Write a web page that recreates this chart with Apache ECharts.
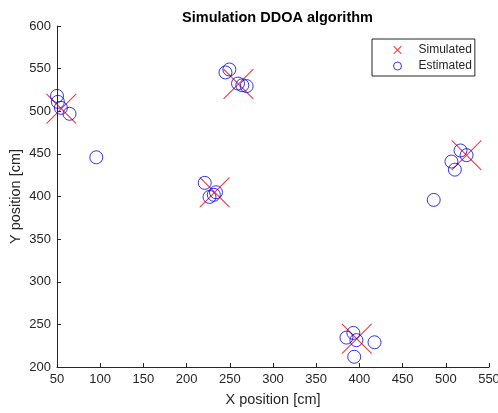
<!DOCTYPE html>
<html>
<head>
<meta charset="utf-8">
<script src="https://cdn.jsdelivr.net/npm/echarts@6/dist/echarts.min.js"></script>
<style>html,body{margin:0;padding:0;background:#fff;}#c{width:498px;height:413px;}</style>
</head>
<body>
<div id="c"></div>
<script>
var simX = [55, 260, 232.5, 524, 397];
var simY = [503, 532, 405, 448.5, 233];
var estX = [50, 51, 54.5, 64.5, 95.5, 245, 249.5, 259.5, 264.5, 269.5, 221, 226.5, 231.5, 234, 517, 524, 506.5, 510.5, 486, 393, 385, 396.5, 417.5, 394];
var estY = [518, 511, 504, 497, 446, 545.5, 549, 532.5, 530.5, 529.5, 416, 399.5, 402, 405, 454, 448.5, 441, 431.5, 396, 240, 234.5, 231.5, 229, 212];
var xTicks = [50, 550, 50];
var yTicks = [200, 600, 50];
var titleText = 'Simulation DDOA algorithm';
var xName = 'X position [cm]';
var yName = 'Y position [cm]';
var names = ['Simulated', 'Estimated'];

function zip(a, b) { return a.map(function (v, i) { return [v, b[i]]; }); }

// X-shaped outline polygon, size s, half thickness h
function xPath(s, h) {
  var c = s / 2;
  var p = [[0,0],[h,0],[c,c-h],[s-h,0],[s,0],[s,h],[c+h,c],[s,s-h],[s,s],[s-h,s],[c,c+h],[h,s],[0,s],[0,s-h],[c-h,c],[0,h]];
  return 'path://M' + p.map(function (q) { return q[0] + ',' + q[1]; }).join('L') + 'Z';
}

var FONT = 'Liberation Sans, Arial, Helvetica, sans-serif';
var TXT = '#262626';
var crossBig = xPath(30, 0.75);
var crossSmall = xPath(8, 0.7);

var chart = echarts.init(document.getElementById('c'), null, {renderer: 'canvas'});
chart.setOption({
  animation: false,
  backgroundColor: '#fff',
  textStyle: {fontFamily: FONT},
  title: {
    text: titleText,
    left: 272.5, textAlign: 'center', top: 5,
    textStyle: {fontSize: 14.5, fontWeight: 'bold', color: '#000', fontFamily: FONT}
  },
  grid: {left: 57, right: 9, top: 26, bottom: 46, containLabel: false, outerBoundsMode: 'none'},
  legend: {
    orient: 'vertical',
    left: 372, top: 39,
    padding: [4, 3, 3, 21],
    itemGap: 2,
    itemWidth: 8, itemHeight: 8,
    borderColor: TXT, borderWidth: 1,
    backgroundColor: '#fff',
    selectedMode: false,
    formatter: function (n) { return '{a|' + n + '}'; },
    textStyle: {
      fontSize: 12, color: TXT, fontFamily: FONT, lineHeight: 14,
      rich: {a: {padding: [0, 0, 0, 12], fontSize: 12, color: TXT, fontFamily: FONT, lineHeight: 14}}
    },
    data: [
      {name: names[0], icon: crossSmall, itemStyle: {color: '#ff0000', borderWidth: 0}},
      {name: names[1], icon: 'circle', itemStyle: {color: 'rgba(0,0,0,0)', borderColor: '#0000ff', borderWidth: 1}}
    ]
  },
  xAxis: {
    type: 'value', min: xTicks[0], max: xTicks[1], interval: xTicks[2],
    name: xName, nameLocation: 'middle', nameGap: 25, nameMoveOverlap: false,
    nameTextStyle: {fontSize: 14.5, color: TXT, fontFamily: FONT},
    axisLine: {show: true, lineStyle: {color: TXT, width: 1}},
    axisTick: {show: true, inside: true, length: 4, lineStyle: {color: TXT}},
    axisLabel: {fontSize: 13, color: TXT, margin: 6, fontFamily: FONT},
    splitLine: {show: false}
  },
  yAxis: {
    type: 'value', min: yTicks[0], max: yTicks[1], interval: yTicks[2],
    name: yName, nameLocation: 'middle', nameGap: 34, nameMoveOverlap: false,
    nameTextStyle: {fontSize: 14.5, color: TXT, fontFamily: FONT},
    axisLine: {show: true, lineStyle: {color: TXT, width: 1}},
    axisTick: {show: true, inside: true, length: 4, lineStyle: {color: TXT}},
    axisLabel: {fontSize: 13, color: TXT, margin: 6, fontFamily: FONT},
    splitLine: {show: false}
  },
  series: [
    {
      name: names[0], type: 'scatter', data: zip(simX, simY),
      symbol: crossBig, symbolSize: 30, clip: false,
      itemStyle: {color: '#ff0000', borderWidth: 0},
      emphasis: {disabled: true}, z: 2
    },
    {
      name: names[1], type: 'scatter', data: zip(estX, estY),
      symbol: 'circle', symbolSize: 13, clip: false,
      itemStyle: {color: 'rgba(0,0,0,0)', borderColor: '#0000ff', borderWidth: 1},
      emphasis: {disabled: true}, z: 3
    }
  ]
});
</script>
</body>
</html>
